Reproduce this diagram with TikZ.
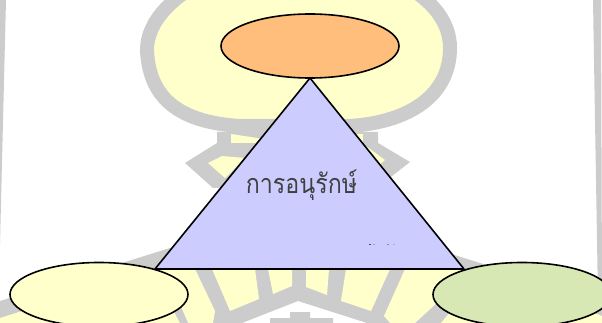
\documentclass[tikz,border=0pt]{standalone}
\usepackage{fontspec}
\newfontfamily\thaifont[Script=Thai,FakeStretch=0.86]{Loma}
\usetikzlibrary{shapes.geometric}
\definecolor{wmgray}{HTML}{CCCCCC}
\definecolor{wmyellow}{HTML}{FFFFCC}
\definecolor{triblue}{HTML}{CCCCFF}
\definecolor{toporange}{HTML}{FFBE7B}
\definecolor{rightgreen}{HTML}{D8E8B4}
\tikzset{
  blob/.style={ellipse,draw=black,line width=1.6pt,minimum width=178pt,minimum height=64pt,inner sep=0pt},
  wmg/.style={fill=wmgray,draw=none},
  wmy/.style={fill=wmyellow,draw=none},
}
\begin{document}
\begin{tikzpicture}[x=1pt,y=-1pt]
\useasboundingbox (0,0) rectangle (602,323);
\clip (0,0) rectangle (602,323);
\fill[white] (0,0) rectangle (602,323);
% frame remnants
\fill[wmgray] (0,0) -- (6,0) -- (2,162) -- (0,245) -- cycle;
\fill[wmgray] (593,0) -- (601,0) -- (602,300) -- (598,300) -- cycle;
% lamp blob
\draw[wmgray,line width=14pt,fill=wmyellow]
  (147,50) .. controls (147,22) and (172,-5) .. (215,-25)
  -- (385,-25) .. controls (430,-5) and (450,20) .. (450,48)
  .. controls (450,95) and (410,122) .. (350,126)
  -- (240,126) .. controls (175,122) and (149,95) .. (147,50) -- cycle;
% neck
\fill[wmg] (217,132) -- (217,143) -- (185,163) -- (213,188) -- (387,180) -- (410,162) -- (378,143) -- (378,132) -- cycle;
\fill[wmy] (231,134) -- (270,140) -- (262,143) -- (231,143) -- cycle;
\fill[wmy] (350,134) -- (363,134) -- (363,146) -- (350,146) -- cycle;
\fill[wmy] (208,163) -- (222,156) -- (245,158) -- (225,178) -- cycle;
\fill[wmy] (366,146) -- (385,160) -- (378,166) -- cycle;
% sun band
\fill[wmg] (0,301) -- (170,248) -- (432,248) -- (602,301) -- (602,323) -- (367,323) -- (298,301) -- (242,323) -- (0,323) -- cycle;
% rays (yellow)
\fill[wmy] (0,318) -- (155,269) -- (195,269) -- (215,311) -- (213,323) -- (0,323) -- cycle;
\fill[wmy] (212,269) -- (255,269) -- (259,299) -- (230,311) -- cycle;
\fill[wmy] (268,269) -- (292,269) -- (292,286) -- (273,294) -- cycle;
\fill[wmy] (306,269) -- (329,269) -- (327,295) -- (306,287) -- cycle;
\fill[wmy] (346,269) -- (390,269) -- (371,311) -- (341,301) -- cycle;
\fill[wmy] (405,269) -- (470,269) -- (440,300) -- (415,323) -- (390,323) -- (384,316) -- cycle;
\fill[wmy] (441,323) -- (460,300) -- (480,269) -- (602,316) -- (602,323) -- cycle;
\fill[wmg] (168,300) -- (178,300) -- (188,323) -- (180,323) -- cycle;
% lower emblem
\fill[wmg] (270,323) -- (270,318) -- (290,318) -- (290,312) -- (310,312) -- (310,318) -- (333,318) -- (333,323) -- cycle;
% triangle
\coordinate (apex) at (310,78);
\coordinate (bl) at (155,269);
\coordinate (br) at (464,269);
\draw[fill=triblue,line width=1.6pt,line join=round] (apex) -- (bl) -- (br) -- cycle;
% faint marks
\fill[black!70] (368.5,243.5) rectangle (370.5,245);
\fill[black!35] (373,243.5) rectangle (375,245);
\fill[black!45] (386.5,243.5) rectangle (389,245);
\fill[black!30] (393,243.5) rectangle (395,245);
% ellipses
\node[blob,fill=toporange] (top) at (310,46) {};
\node[blob,fill=wmyellow] (left) at (99,294.5) {};
\node[blob,fill=rightgreen] (right) at (522,294.5) {};
% label
\node[inner sep=0pt,text=black!75] (label) at (301.5,185) {\thaifont\fontsize{27}{32}\selectfont การอนุรักษ์};
\end{tikzpicture}
\end{document}
